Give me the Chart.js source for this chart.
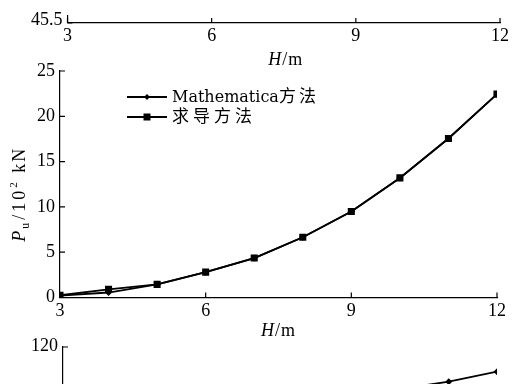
<!DOCTYPE html>
<html>
<head>
<meta charset="utf-8">
<script src="https://cdn.jsdelivr.net/npm/chart.js@4.4.0/dist/chart.umd.min.js"></script>
<style>
  html, body { margin: 0; padding: 0; background: #fff; overflow: hidden; }
  #page { position: relative; width: 527px; height: 384px; overflow: hidden; background: #fff; }
  .layer { position: absolute; left: 0; top: 0; width: 527px; }
</style>
</head>
<body>
<div id="page">
  <div class="layer" style="height:384px"><canvas id="topChart"></canvas></div>
  <div class="layer" style="height:384px"><canvas id="mainChart"></canvas></div>
  <div class="layer" style="height:620px"><canvas id="bottomChart"></canvas></div>
</div>
<script>
// H/m values and loads (10^2 kN)
const heights = [3, 4, 5, 6, 7, 8, 9, 10, 11, 12];
const mathematicaLoads = [0.2, 0.55, 1.45, 2.8, 4.35, 6.65, 9.5, 13.2, 17.55, 22.45];
const derivedLoads = [0.25, 0.9, 1.45, 2.8, 4.35, 6.65, 9.5, 13.2, 17.55, 22.45];
const xTicks = [3, 6, 9, 12];
const loadTicks = [0, 5, 10, 15, 20, 25];

// cut-off neighbours above and below
const topYTicks = [45.5];
const bottomYTicks = [0, 30, 60, 90, 120];
const bottomHeights = [10, 11, 12];
const bottomValues = [97.7, 101.6, 106.9];

const serif = '"Liberation Serif", "Times New Roman", serif';
const tickFont = { family: serif, size: 18 };
Chart.defaults.color = '#000';

function setTicks(list) {
  return s => { s.ticks = list.map(v => ({ value: v })); };
}

function measureRuns(ctx, runs) {
  let w = 0;
  runs.forEach(r => {
    ctx.font = r.font;
    ctx.letterSpacing = r.spacing || '0px';
    w += ctx.measureText(r.text).width;
  });
  ctx.letterSpacing = '0px';
  return w;
}

function drawRuns(ctx, runs, x, y) {
  runs.forEach(r => {
    ctx.font = r.font;
    ctx.letterSpacing = r.spacing || '0px';
    ctx.fillText(r.text, x, y + (r.dy || 0));
    x += ctx.measureText(r.text).width;
  });
  ctx.letterSpacing = '0px';
}

// ticks pointing into the plot, plus the H/m title
const axisDecor = {
  id: 'axisDecor',
  afterDraw(chart, args, opts) {
    const ctx = chart.ctx;
    const xs = chart.scales.x, ys = chart.scales.y;
    ctx.save();
    ctx.strokeStyle = '#000';
    ctx.lineWidth = 1.2;
    ctx.beginPath();
    xs.ticks.forEach(t => {
      const px = xs.getPixelForValue(t.value);
      ctx.moveTo(px, xs.top);
      ctx.lineTo(px, xs.top - 5);
    });
    ys.ticks.forEach(t => {
      const py = ys.getPixelForValue(t.value);
      ctx.moveTo(ys.right, py);
      ctx.lineTo(ys.right + 5, py);
    });
    ctx.stroke();

    ctx.fillStyle = '#000';
    ctx.textBaseline = 'alphabetic';
    const title = [
      { text: 'H', font: 'italic 18px ' + serif, spacing: '1px' },
      { text: '/m', font: '18px ' + serif, spacing: '1px' }
    ];
    const w = measureRuns(ctx, title);
    const cx = (xs.left + xs.right) / 2 + (opts.titleShift || 0);
    drawRuns(ctx, title, cx - w / 2, xs.top + opts.titleGap);
    ctx.restore();
  }
};

function baseOptions() {
  return {
    animation: false,
    responsive: true,
    maintainAspectRatio: false,
    events: [],
    plugins: { legend: { display: false }, tooltip: { enabled: false } }
  };
}

function axis(extra) {
  return Object.assign({
    type: 'linear',
    grid: { display: false, drawTicks: false },
    border: { color: '#000', width: 1.2 },
    ticks: { color: '#000', font: tickFont, autoSkip: false, maxRotation: 0 }
  }, extra);
}

// ---------- top strip ----------
const topOpts = baseOptions();
topOpts.layout = { padding: { left: 0, top: 12, right: 27, bottom: 0 } };
topOpts.plugins.axisDecor = { titleGap: 42, titleShift: 2 };
topOpts.scales = {
  x: axis({ min: 3, max: 12, afterBuildTicks: setTicks(xTicks),
    afterFit: s => { s.height = 361; },
    ticks: { color: '#000', font: tickFont, padding: 2, autoSkip: false, maxRotation: 0 } }),
  y: axis({ min: 45.5, max: 46, afterBuildTicks: setTicks(topYTicks),
    afterFit: s => { s.width = 67.5; },
    ticks: { color: '#000', font: tickFont, padding: 5, labelOffset: -3, autoSkip: false,
      callback: v => v.toFixed(1) } })
};
new Chart(document.getElementById('topChart'), {
  type: 'line',
  data: { datasets: [] },
  options: topOpts,
  plugins: [axisDecor]
});

// ---------- main chart ----------
const legendBox = {
  id: 'legendBox',
  afterDraw(chart) {
    const ctx = chart.ctx;
    const a = chart.chartArea;
    const x0 = a.left + 67, x1 = a.left + 107, xm = (x0 + x1) / 2;
    const rows = [
      { y: a.top + 26, marker: 'diamond',
        runs: [{ text: 'Mathematica', font: '16px "DejaVu Serif", serif', spacing: '0px' },
               { text: '方法', font: '17px "Noto Sans CJK SC"', spacing: '3px' }] },
      { y: a.top + 46, marker: 'square',
        runs: [{ text: '求导方法', font: '17px "Noto Sans CJK SC"', spacing: '4px' }] }
    ];
    ctx.save();
    ctx.strokeStyle = '#000';
    ctx.fillStyle = '#000';
    rows.forEach(r => {
      ctx.lineWidth = 1.8;
      ctx.beginPath();
      ctx.moveTo(x0, r.y);
      ctx.lineTo(x1, r.y);
      ctx.stroke();
      ctx.beginPath();
      if (r.marker === 'square') {
        ctx.rect(xm - 3.5, r.y - 3.5, 7, 7);
      } else {
        ctx.moveTo(xm, r.y - 3);
        ctx.lineTo(xm + 3, r.y);
        ctx.lineTo(xm, r.y + 3);
        ctx.lineTo(xm - 3, r.y);
        ctx.closePath();
      }
      ctx.fill();
      ctx.textBaseline = 'alphabetic';
      drawRuns(ctx, r.runs, x1 + 5, r.y + 5);
    });

    // y title: P_u/10^2 kN
    const runs = [
      { text: 'P', font: 'italic 18px ' + serif, spacing: '2px' },
      { text: 'u', font: '12px ' + serif, dy: 4, spacing: '3px' },
      { text: '/10', font: '18px ' + serif, spacing: '3px' },
      { text: '2', font: '11px ' + serif, dy: -8, spacing: '3px' },
      { text: ' kN', font: '18px ' + serif, spacing: '2px' }
    ];
    ctx.translate(a.left - 35, (a.top + a.bottom) / 2 + 10);
    ctx.rotate(-Math.PI / 2);
    const w = measureRuns(ctx, runs);
    drawRuns(ctx, runs, -w / 2, 0);
    ctx.restore();
  }
};

const mainOpts = baseOptions();
mainOpts.layout = { padding: { left: 0, top: 71, right: 30, bottom: 0 } };
mainOpts.plugins.axisDecor = { titleGap: 38, titleShift: 0 };
mainOpts.scales = {
  x: axis({ min: 3, max: 12, afterBuildTicks: setTicks(xTicks),
    afterFit: s => { s.height = 86.5; },
    ticks: { color: '#000', font: tickFont, padding: 3, autoSkip: false, maxRotation: 0 } }),
  y: axis({ min: 0, max: 25, afterBuildTicks: setTicks(loadTicks),
    afterFit: s => { s.width = 60; },
    ticks: { color: '#000', font: tickFont, padding: 5, autoSkip: false } })
};
new Chart(document.getElementById('mainChart'), {
  type: 'line',
  data: {
    datasets: [
      {
        label: '求导方法',
        data: heights.map((h, i) => ({ x: h, y: derivedLoads[i] })),
        borderColor: '#000', backgroundColor: '#000', borderWidth: 1.8,
        pointStyle: 'rect', pointRadius: 5, pointBorderWidth: 0, tension: 0
      },
      {
        label: 'Mathematica方法',
        data: heights.map((h, i) => ({ x: h, y: mathematicaLoads[i] })),
        borderColor: '#000', backgroundColor: '#000', borderWidth: 1.8,
        pointStyle: 'rectRot', pointRadius: 3.5, pointBorderWidth: 0, tension: 0
      }
    ]
  },
  options: mainOpts,
  plugins: [axisDecor, legendBox]
});

// ---------- bottom strip ----------
const bottomOpts = baseOptions();
bottomOpts.layout = { padding: { left: 0, top: 347, right: 30, bottom: 0 } };
bottomOpts.plugins.axisDecor = { titleGap: 38, titleShift: 0 };
bottomOpts.scales = {
  x: axis({ min: 3, max: 12, afterBuildTicks: setTicks(xTicks),
    afterFit: s => { s.height = 47; } }),
  y: axis({ min: 0, max: 120, afterBuildTicks: setTicks(bottomYTicks),
    afterFit: s => { s.width = 63; },
    ticks: { color: '#000', font: tickFont, padding: 5, labelOffset: -1, autoSkip: false } })
};
new Chart(document.getElementById('bottomChart'), {
  type: 'line',
  data: {
    datasets: [{
      data: bottomHeights.map((h, i) => ({ x: h, y: bottomValues[i] })),
      borderColor: '#000', backgroundColor: '#000', borderWidth: 1.8,
      pointStyle: 'rectRot', pointRadius: 3.5, pointBorderWidth: 0, tension: 0
    }]
  },
  options: bottomOpts,
  plugins: [axisDecor]
});
</script>
</body>
</html>
